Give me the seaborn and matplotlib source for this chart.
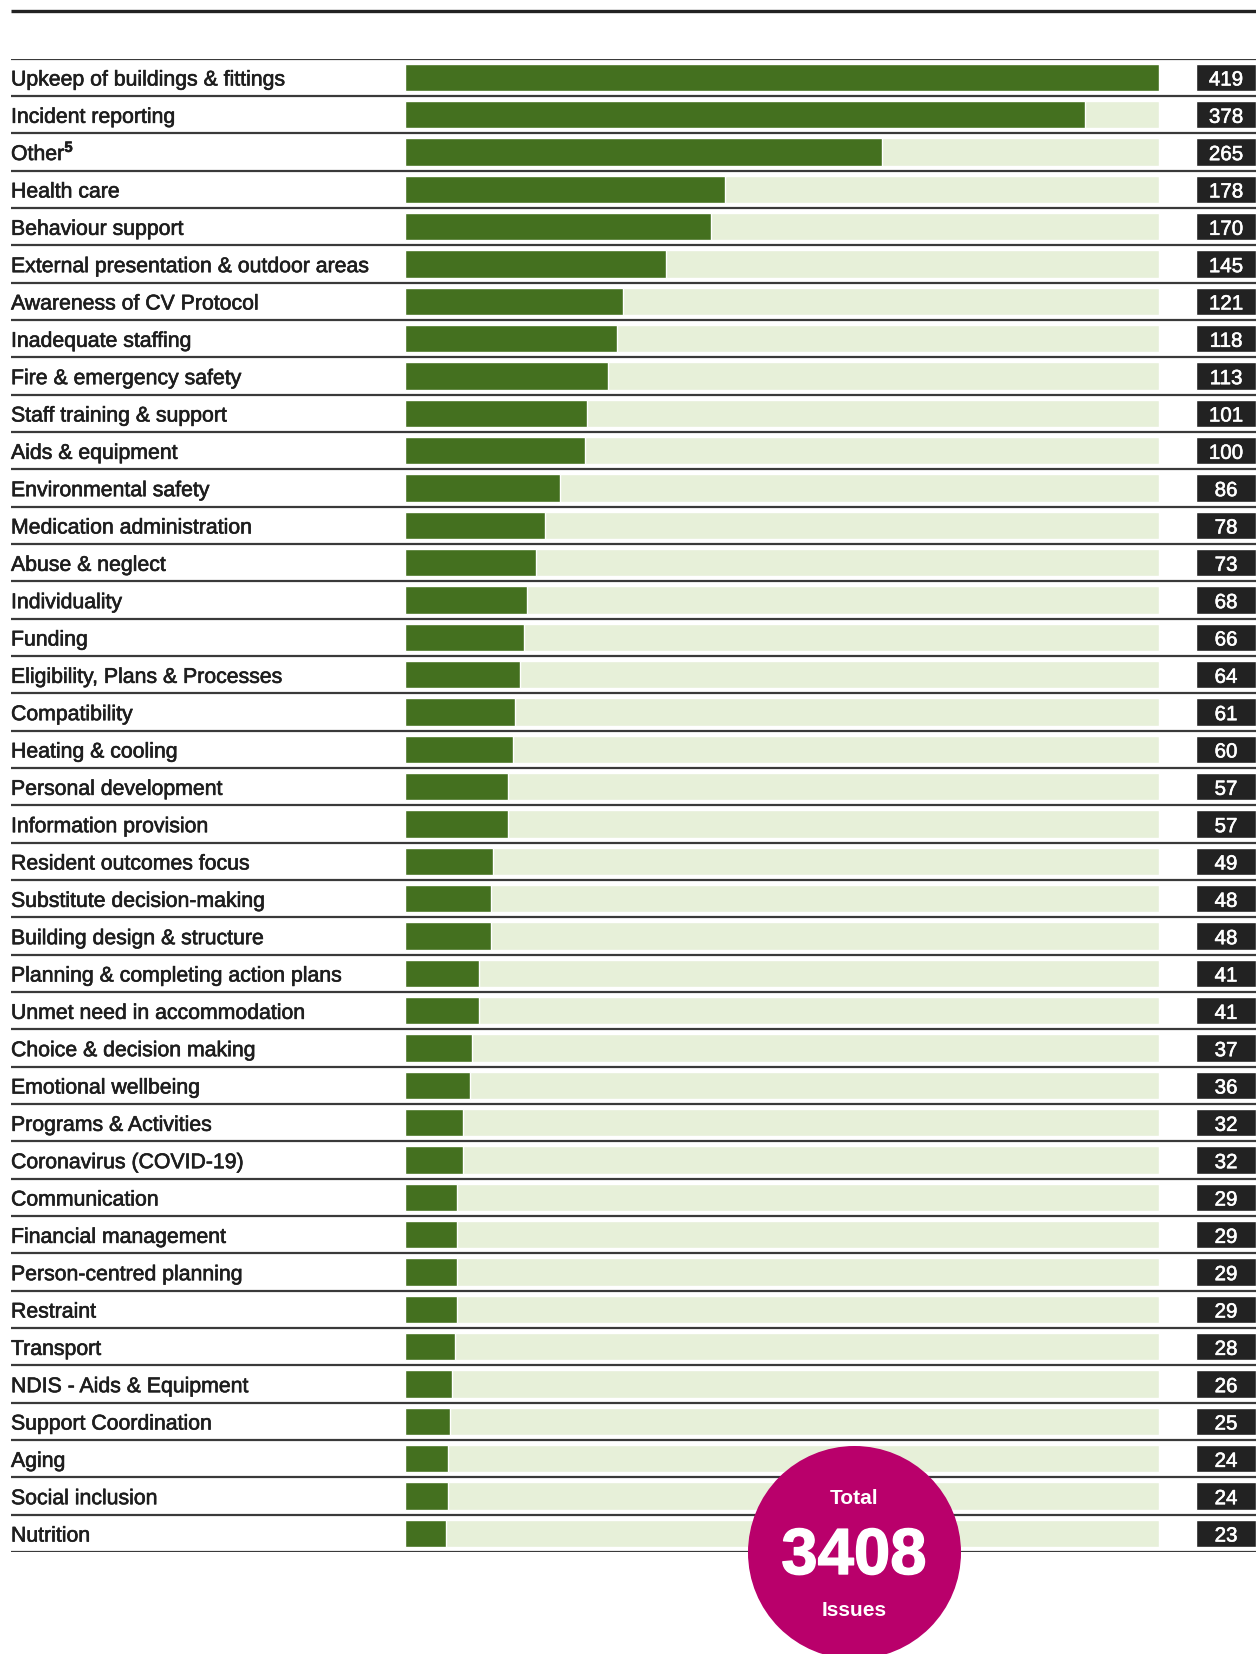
import matplotlib
matplotlib.use("Agg")
import matplotlib.pyplot as plt
import matplotlib.patheffects as pe
import seaborn as sns
import pandas as pd
from matplotlib.patches import Circle

categories = [
    "Upkeep of buildings & fittings", "Incident reporting", "Other$^{\\mathbf{5}}$",
    "Health care", "Behaviour support", "External presentation & outdoor areas",
    "Awareness of CV Protocol", "Inadequate staffing", "Fire & emergency safety",
    "Staff training & support", "Aids & equipment", "Environmental safety",
    "Medication administration", "Abuse & neglect", "Individuality", "Funding",
    "Eligibility, Plans & Processes", "Compatibility", "Heating & cooling",
    "Personal development", "Information provision", "Resident outcomes focus",
    "Substitute decision-making", "Building design & structure",
    "Planning & completing action plans", "Unmet need in accommodation",
    "Choice & decision making", "Emotional wellbeing", "Programs & Activities",
    "Coronavirus (COVID-19)", "Communication", "Financial management",
    "Person-centred planning", "Restraint", "Transport", "NDIS - Aids & Equipment",
    "Support Coordination", "Aging", "Social inclusion", "Nutrition",
]
values = [419, 378, 265, 178, 170, 145, 121, 118, 113, 101, 100, 86, 78, 73, 68,
          66, 64, 61, 60, 57, 57, 49, 48, 48, 41, 41, 37, 36, 32, 32, 29, 29, 29,
          29, 28, 26, 25, 24, 24, 23]
total_label = "3408"

sns.set_theme(style="white")
plt.rcParams['font.family'] = ['Liberation Sans', 'DejaVu Sans']
plt.rcParams['mathtext.fontset'] = 'custom'
plt.rcParams['mathtext.rm'] = 'Liberation Sans'
plt.rcParams['mathtext.bf'] = 'Liberation Sans:bold'

W, H = 1256, 1654
fig = plt.figure(figsize=(W / 100, H / 100), dpi=100)

n = len(categories)
y_top_px, y_bot_px = 58.6, 1552.0
bottom = 1 - y_bot_px / H
height = (y_bot_px - y_top_px) / H

df = pd.DataFrame({"cat": categories, "val": values})
df["track"] = max(values)
df["box"] = 1

DARK = "#44701F"
LIGHT = "#E7F0D9"
TXT = "#1e1e1e"

# background axes for separators and labels
bg = fig.add_axes([0, bottom, 1, height])
bg.set_xlim(0, W)
bg.set_ylim(n - 0.5, -0.5)
bg.axis("off")
for k in range(n + 1):
    bg.plot([11, W], [k - 0.5, k - 0.5], color="#3a3a3a", lw=1.6, solid_capstyle="butt")
for i, c in enumerate(categories):
    bg.text(11, i + 0.22, c, ha="left", va="baseline", fontsize=15.3, color=TXT,
            path_effects=[pe.withStroke(linewidth=0.45, foreground=TXT)])

# bar axes
x0, x1 = 405, 1159
ax = fig.add_axes([x0 / W, bottom, (x1 - x0) / W, height])
sns.barplot(data=df, x="track", y="cat", color=LIGHT, saturation=1, width=0.73,
            orient="h", ax=ax)
sns.barplot(data=df, x="val", y="cat", color=DARK, saturation=1, width=0.73,
            orient="h", ax=ax)
ax.set_xlim(0, max(values))
ax.set_ylim(n - 0.5, -0.5)
ax.axis("off")

# value boxes
b0, b1 = 1196, 1256
bx = fig.add_axes([b0 / W, bottom, (b1 - b0) / W, height])
sns.barplot(data=df, x="box", y="cat", color="#222222", saturation=1, width=0.73,
            orient="h", ax=bx)
bx.set_xlim(0, 1)
bx.set_ylim(n - 0.5, -0.5)
bx.axis("off")
for i, v in enumerate(values):
    bx.text(0.5, i + 0.22, str(v), ha="center", va="baseline", fontsize=14.8, color="white",
            path_effects=[pe.withStroke(linewidth=0.4, foreground="white")])

# overlay: top rule and total circle
ov = fig.add_axes([0, 0, 1, 1])
ov.set_xlim(0, W)
ov.set_ylim(H, 0)
ov.axis("off")
ov.plot([11, W], [11, 11], color="#222222", lw=2.4, solid_capstyle="butt")
ov.add_patch(Circle((854.5, 1552.5), 106.5, color="#B9006B", lw=0))
ov.text(854, 1498, "Total", ha="center", va="center", fontsize=15, fontweight="bold", color="white")
ov.text(854, 1557, total_label, ha="center", va="center", fontsize=47, fontweight="bold", color="white",
        path_effects=[pe.withStroke(linewidth=1.0, foreground="white")])
ov.text(854, 1610, "Issues", ha="center", va="center", fontsize=15, fontweight="bold", color="white")

fig.savefig("out.png", dpi=100)
